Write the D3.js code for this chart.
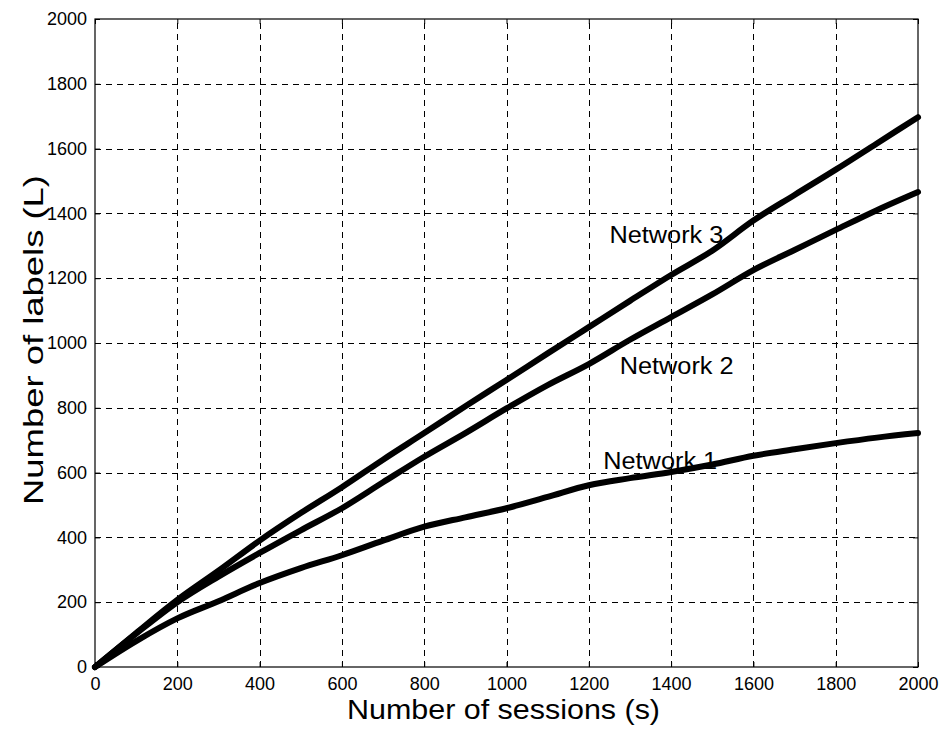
<!DOCTYPE html>
<html>
<head>
<meta charset="utf-8">
<script src="https://cdn.jsdelivr.net/npm/d3@7"></script>
<style>
  body { margin: 0; background: #fff; }
  text { font-family: "Liberation Sans", Arial, sans-serif; fill: #000; }
</style>
</head>
<body>
<svg id="chart"></svg>
<script>
/* ---------- size ---------- */
var WIDTH = 947, HEIGHT = 729;
var margin = {left: 95, right: 29, top: 19, bottom: 62};

/* ---------- data ---------- */
var sessions = [0, 100, 200, 300, 400, 500, 600, 700, 800, 900, 1000,
                1100, 1200, 1300, 1400, 1500, 1600, 1700, 1800, 1900, 2000];
var network1 = [0, 80, 150, 203, 259, 305, 345, 390, 433, 462, 490,
                525, 561, 583, 602, 625, 652, 672, 691, 708, 722];
var network2 = [0, 103, 200, 279, 352, 422, 490, 570, 649, 722, 798,
                870, 935, 1010, 1080, 1150, 1225, 1287, 1349, 1410, 1466];
var network3 = [0, 105, 207, 297, 390, 475, 555, 640, 722, 805, 886,
                968, 1049, 1130, 1210, 1285, 1378, 1457, 1535, 1616, 1697];
var seriesNames = ["Network 1", "Network 2", "Network 3"];
var xTicks = d3.range(0, 2001, 200);
var yTicks = d3.range(0, 2001, 200);

var series = [network1, network2, network3].map(function(vals, i) {
    return {name: seriesNames[i], points: vals.map(function(v, j) { return [sessions[j], v]; })};
});

/* ---------- scales ---------- */
var svg = d3.select("#chart").attr("width", WIDTH).attr("height", HEIGHT);

var x = d3.scaleLinear().domain([0, 2000]).range([margin.left, WIDTH - margin.right]);
var y = d3.scaleLinear().domain([0, 2000]).range([HEIGHT - margin.bottom, margin.top]);

/* ---------- grid ---------- */
var grid = svg.append("g").attr("stroke", "#000").attr("stroke-width", 1)
    .attr("stroke-dasharray", "6,5").attr("fill", "none");

grid.selectAll(".vgrid").data(xTicks.slice(1, -1)).enter().append("line")
    .attr("x1", function(d) { return Math.round(x(d)) + 0.5; })
    .attr("x2", function(d) { return Math.round(x(d)) + 0.5; })
    .attr("y1", y(0)).attr("y2", y(2000));

grid.selectAll(".hgrid").data(yTicks.slice(1, -1)).enter().append("line")
    .attr("y1", function(d) { return Math.round(y(d)) + 0.5; })
    .attr("y2", function(d) { return Math.round(y(d)) + 0.5; })
    .attr("x1", x(0)).attr("x2", x(2000));

/* ---------- axes (inward ticks, all sides) ---------- */
var fmt = d3.format("d");
function styleAxis(g) {
    g.select(".domain").remove();
    g.selectAll("text").attr("font-size", "18px")
        .style("font-family", '"Liberation Sans", Arial, sans-serif');
}
svg.append("g").attr("transform", "translate(0," + y(0) + ")")
    .call(d3.axisBottom(x).tickValues(xTicks).tickFormat(fmt).tickSizeInner(-5).tickSizeOuter(0).tickPadding(10))
    .call(styleAxis);
svg.append("g").attr("transform", "translate(" + x(0) + ",0)")
    .call(d3.axisLeft(y).tickValues(yTicks).tickFormat(fmt).tickSizeInner(-5).tickSizeOuter(0).tickPadding(8))
    .call(styleAxis);
svg.append("g").attr("transform", "translate(0," + y(2000) + ")")
    .call(d3.axisTop(x).tickValues(xTicks).tickFormat("").tickSizeInner(-5).tickSizeOuter(0))
    .call(styleAxis);
svg.append("g").attr("transform", "translate(" + x(2000) + ",0)")
    .call(d3.axisRight(y).tickValues(yTicks).tickFormat("").tickSizeInner(-5).tickSizeOuter(0))
    .call(styleAxis);

svg.append("rect")
    .attr("x", x(0)).attr("y", y(2000))
    .attr("width", x(2000) - x(0)).attr("height", y(0) - y(2000))
    .attr("fill", "none").attr("stroke", "#000").attr("stroke-width", 1.2);

/* ---------- lines ---------- */
var line = d3.line().x(function(d) { return x(d[0]); }).y(function(d) { return y(d[1]); })
    .curve(d3.curveMonotoneX);

svg.selectAll(".series").data(series).enter().append("path")
    .attr("class", "series")
    .attr("d", function(d) { return line(d.points); })
    .attr("fill", "none").attr("stroke", "#000").attr("stroke-width", 6)
    .attr("stroke-linecap", "round").attr("stroke-linejoin", "round");

/* ---------- labels on lines ---------- */
var labelPos = [[1235, 612], [1275, 905], [1250, 1310]];
svg.selectAll(".lbl").data(series).enter().append("text")
    .attr("x", function(d, i) { return x(labelPos[i][0]); })
    .attr("y", function(d, i) { return y(labelPos[i][1]); })
    .attr("font-size", "23px")
    .attr("textLength", 114).attr("lengthAdjust", "spacingAndGlyphs")
    .text(function(d) { return d.name; });

/* ---------- axis titles ---------- */
svg.append("text")
    .attr("x", 347).attr("y", 719)
    .attr("font-size", "27px")
    .attr("textLength", 313).attr("lengthAdjust", "spacingAndGlyphs")
    .text("Number of sessions (s)");

svg.append("text")
    .attr("transform", "translate(43,505) rotate(-90)")
    .attr("font-size", "27px")
    .attr("textLength", 330).attr("lengthAdjust", "spacingAndGlyphs")
    .text("Number of labels (L)");
</script>
</body>
</html>
